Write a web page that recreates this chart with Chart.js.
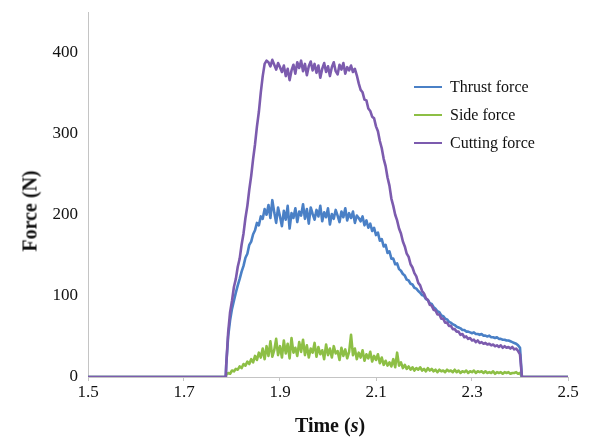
<!DOCTYPE html>
<html>
<head>
<meta charset="utf-8">
<script src="https://cdn.jsdelivr.net/npm/chart.js@4.4.1/dist/chart.umd.min.js"></script>
<style>
    body { margin: 0; background: #fff; }
    #quadro { position: relative; width: 594px; height: 441px; }
    .titulo { position: absolute; font-family: 'Liberation Serif', 'Times New Roman', serif; font-weight: bold; font-size: 20px; color: #111; white-space: nowrap; }
    #tituloY { left: 30px; top: 211px; transform: translate(-50%, -50%) rotate(-90deg); }
    #tituloX { left: 330px; top: 425px; transform: translate(-50%, -50%); }
    #legenda { position: absolute; left: 414px; top: 73px; font-family: 'Liberation Serif', 'Times New Roman', serif; font-size: 16px; color: #111; }
    .item { height: 28px; display: flex; align-items: center; }
    .traco { width: 28px; height: 2.5px; margin-right: 8px; }
</style>
</head>
<body>
<div id="quadro">
    <canvas id="chartForcas" width="594" height="441"></canvas>
    <div class="titulo" id="tituloY">Force (N)</div>
    <div class="titulo" id="tituloX">Time (<i>s</i>)</div>
    <div id="legenda"></div>
</div>
<script>
// ----------------------------------------------------------------------------
// dados (força em N, amostras a cada 4 ms)

const tempoInicio = 1.788;   // primeira amostra com corte
const passo = 0.004;
const repousoAntes = [1.5, 1.787];
const repousoDepois = [2.404, 2.5];

const ticksX = [1.5, 1.7, 1.9, 2.1, 2.3, 2.5];
const ticksY = [0, 100, 200, 300, 400];

const nomesSeries = ['Thrust force', 'Side force', 'Cutting force'];
const coresSeries = ['#4a80c6', '#8dbf45', '#7c5bae'];

const forcaAvanco = [
    15, 50, 70, 84, 94, 104, 113, 121, 130, 137, 147, 152, 163, 167, 176, 181, 190, 187, 198, 195, 207, 200,
    212, 196, 218, 203, 190, 209, 198, 186, 205, 194, 211, 183, 202, 196, 208, 191, 204, 199, 213, 195,
    207, 189, 209, 201, 194, 206, 198, 211, 192, 203, 197, 208, 188, 201, 195, 206, 199, 191, 204, 197,
    208, 193, 202, 196, 204, 190, 199,
    196, 192, 198, 187, 193, 184, 189, 180, 184, 175, 178, 168, 170, 161, 163, 153, 155, 146, 146, 139,
    140, 133, 131, 127, 125, 120, 119, 115, 114, 110, 109, 106, 104, 101, 100, 96, 95, 91, 90, 86,
    84, 81, 80, 76, 75, 72, 71, 68, 67, 65, 64, 62, 61, 60, 58, 58, 56, 56, 55, 54,
    55, 53, 53, 52, 53, 51, 51, 50, 51, 49, 49, 48, 49, 47, 47, 46, 46, 45, 45, 44,
    43, 42, 41, 39, 36
];

const forcaLateral = [
    3, 5, 4, 8, 7, 10, 9, 13, 11, 16, 14, 19, 16, 22, 18, 26, 21, 30, 24, 35, 22, 38,
    26, 44, 25, 33, 47, 27, 38, 24, 45, 29, 41, 23, 48, 30, 36, 26, 43, 31, 46, 27,
    39, 24, 35, 30, 42, 25, 37, 28, 33, 22, 40, 27, 35, 24, 38, 29, 32, 21, 36, 26,
    34, 23, 31, 52, 27, 35, 22,
    30, 24, 33, 20, 28, 23, 31, 19, 26, 21, 28, 17, 24, 15, 20, 14, 18, 13, 22, 12,
    30, 14, 18, 11, 15, 10, 13, 9, 12, 8, 11, 9, 12, 8, 10, 7, 11, 8, 10, 7,
    9, 6, 9, 7, 8, 6, 9, 7, 8, 6, 9, 6, 8, 5, 7, 6, 8, 5, 7, 6,
    8, 5, 7, 6, 7, 5, 7, 5, 6, 5, 7, 4, 6, 5, 6, 4, 6, 5, 6, 4,
    5, 5, 6, 4, 5
];

const forcaCorte = [
    15, 55, 80, 94, 111, 121, 136, 146, 163, 177, 196, 211, 231, 248, 269, 287, 309, 327, 351, 371, 386, 390,
    388, 383, 391, 385, 379, 387, 382, 376, 384, 371, 380, 366, 378, 385, 374, 388, 381, 390, 377, 386,
    372, 383, 389, 378, 386, 375, 384, 369, 380, 387, 376, 383, 371, 382, 388, 377, 373, 385, 379, 387,
    374, 382, 378, 384, 376, 380, 372,
    362, 354, 351, 342, 341, 331, 328, 321, 319, 309, 303, 291, 282, 269, 260, 246, 236, 220, 211, 200,
    193, 183, 177, 167, 161, 152, 148, 139, 135, 128, 124, 116, 113, 106, 103, 97, 95, 89, 88, 83,
    82, 77, 77, 72, 72, 67, 67, 63, 63, 59, 59, 56, 56, 52, 53, 49, 50, 47, 48, 45,
    46, 43, 45, 42, 43, 41, 42, 40, 41, 39, 40, 38, 39, 37, 39, 36, 38, 36, 37, 35,
    37, 34, 35, 32, 28
];

// ----------------------------------------------------------------------------

// junta o trecho parado (força zero) com as amostras do corte
function montarPontos(valores) {
    let pontos = [{ x: repousoAntes[0], y: 0 }, { x: repousoAntes[1], y: 0 }];
    for (let i = 0; i < valores.length; i++) {
        pontos.push({ x: tempoInicio + i * passo, y: valores[i] });
    }
    pontos.push({ x: repousoDepois[0], y: 0 }, { x: repousoDepois[1], y: 0 });
    return pontos;
}

const fonteEixo = { family: "'Liberation Serif', 'Times New Roman', serif", size: 17 };
const corEixo = '#c4c4c4';

let dados = {
    datasets: [
        { label: nomesSeries[0], data: montarPontos(forcaAvanco), borderColor: coresSeries[0], order: 1 },
        { label: nomesSeries[1], data: montarPontos(forcaLateral), borderColor: coresSeries[1], order: 2 },
        { label: nomesSeries[2], data: montarPontos(forcaCorte), borderColor: coresSeries[2], order: 0 }
    ]
};
dados.datasets.forEach(d => {
    d.borderWidth = 2.6;
    d.pointRadius = 0;
    d.tension = 0;
    d.fill = false;
    d.borderJoinStyle = 'round';
});

const config = {
    type: 'line',
    data: dados,
    options: {
        responsive: false,
        animation: false,
        layout: { padding: { top: 12, right: 26, bottom: 0, left: 0 } },
        plugins: { legend: { display: false }, tooltip: { enabled: false } },
        scales: {
            x: {
                type: 'linear',
                min: 1.5,
                max: 2.5,
                afterBuildTicks: (eixo) => { eixo.ticks = ticksX.map(v => ({ value: v })); },
                afterFit: (eixo) => { eixo.height = 64; },
                ticks: { font: fonteEixo, color: '#111', padding: 1, maxRotation: 0, autoSkip: false,
                    callback: (v) => v.toFixed(1) },
                grid: { drawOnChartArea: false, drawTicks: true, tickLength: 4, color: corEixo },
                border: { color: corEixo }
            },
            y: {
                min: 0,
                max: 450,
                afterBuildTicks: (eixo) => { eixo.ticks = ticksY.map(v => ({ value: v })); },
                // o topo do eixo fica vazio (450), entao nao precisa de folga para o rotulo
                afterFit: (eixo) => { eixo.width = 88; eixo.paddingTop = 0; eixo.paddingBottom = 0; },
                ticks: { font: fonteEixo, color: '#111', padding: 10 },
                grid: { drawOnChartArea: false, drawTicks: false },
                border: { color: corEixo }
            }
        }
    }
};

let chartForcas = new Chart(document.getElementById('chartForcas'), config);
console.log('area do grafico:', chartForcas.chartArea);

// legenda em html, montada a partir dos datasets
let legenda = document.getElementById('legenda');
chartForcas.data.datasets.forEach(d => {
    legenda.innerHTML += `<div class="item"><span class="traco" style="background:${d.borderColor}"></span>${d.label}</div>`;
});
</script>
</body>
</html>
